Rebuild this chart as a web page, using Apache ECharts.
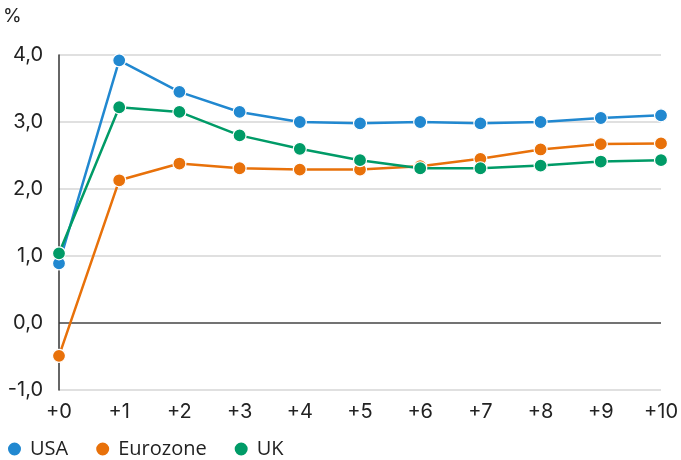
<!DOCTYPE html>
<html>
<head>
<meta charset="utf-8">
<script src="https://cdn.jsdelivr.net/npm/echarts@6/dist/echarts.min.js"></script>
<style>
html,body{margin:0;padding:0;background:#fff;}
#c{width:681px;height:460px;}
</style>
</head>
<body>
<div id="c"></div>
<script>
const categories = ['+0','+1','+2','+3','+4','+5','+6','+7','+8','+9','+10'];
const usa = [0.89, 3.92, 3.45, 3.15, 3.0, 2.98, 3.0, 2.98, 3.0, 3.06, 3.1];
const eurozone = [-0.49, 2.13, 2.38, 2.31, 2.29, 2.29, 2.34, 2.45, 2.59, 2.67, 2.68];
const uk = [1.04, 3.22, 3.15, 2.8, 2.6, 2.43, 2.31, 2.31, 2.35, 2.41, 2.43];
const seriesNames = ['USA', 'Eurozone', 'UK'];
const colors = ['#2188d0', '#e8710a', '#009b67'];

const font = 'Inter, "Noto Sans", sans-serif';
const legendFont = '"Open Sans", sans-serif';
const chart = echarts.init(document.getElementById('c'), null, {renderer: 'canvas'});
function mk(name, data, color) {
  return {
    name: name, type: 'line', data: data,
    symbol: 'circle', symbolSize: 13, showSymbol: true,
    lineStyle: {color: color, width: 2.5},
    itemStyle: {color: color, borderColor: '#fff', borderWidth: 1.2},
    emphasis: {disabled: true}, animation: false
  };
}
chart.setOption({
  animation: false,
  color: colors,
  grid: {left: 59, right: 19, top: 55, bottom: 70, containLabel: false},
  title: {text: '%', left: 3, top: 7, padding: 0, textStyle: {fontFamily: font, fontSize: 19, fontWeight: 'normal', color: '#222'}},
  legend: {
    left: 6, top: 439, padding: 0, icon: 'circle', itemWidth: 15, itemHeight: 15, itemGap: 26,
    textStyle: {fontFamily: legendFont, fontSize: 20, color: '#222', padding: [0,0,0,3]},
    data: seriesNames
  },
  xAxis: {
    type: 'category', data: categories, boundaryGap: false,
    axisLine: {show: false}, axisTick: {show: false},
    axisLabel: {fontFamily: font, fontSize: 20, color: '#222', margin: 12},
    splitLine: {show: false}
  },
  yAxis: {
    type: 'value', min: -1, max: 4, interval: 1,
    axisLine: {show: true, onZero: false, lineStyle: {color: '#333', width: 1.5}},
    axisTick: {show: false},
    axisLabel: {fontFamily: font, fontSize: 20, color: '#222', margin: 16,
      formatter: v => v.toFixed(1).replace('.', ',')},
    splitLine: {show: true, lineStyle: {color: ['#d6d6d6','#444','#d6d6d6','#d6d6d6','#d6d6d6','#d6d6d6'], width: 1.5}}
  },
  series: [mk(seriesNames[0], usa, colors[0]), mk(seriesNames[1], eurozone, colors[1]), mk(seriesNames[2], uk, colors[2])]
});
</script>
</body>
</html>
